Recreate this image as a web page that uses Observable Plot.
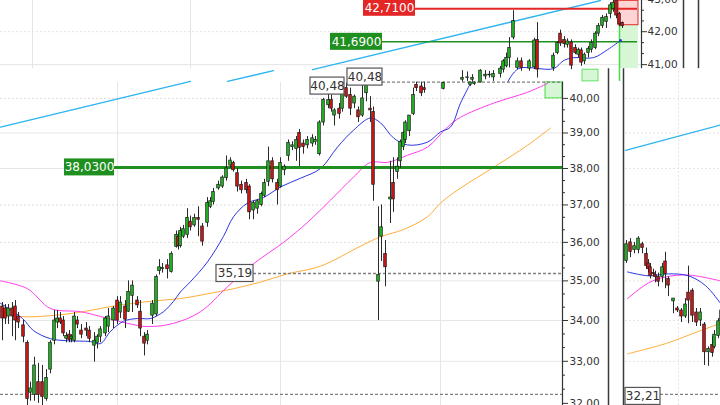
<!DOCTYPE html>
<html><head><meta charset="utf-8">
<script src="https://cdn.jsdelivr.net/npm/d3@7"></script>
<script src="https://cdn.jsdelivr.net/npm/@observablehq/plot@0.6"></script>
<style>html,body{margin:0;padding:0;background:#fff;}#chart{width:720px;height:405px;overflow:hidden;position:relative;}</style>
</head><body><div id="chart"></div>
<script>
// ================= DATA =================
// price levels
const levelValues = [42.71, 41.69, 38.03];
const levelLabels = ["42,7100", "41,6900", "38,0300"];
const markerValues = [40.48, 40.48, 35.19, 32.21];
const markerLabels = ["40,48", "40,48", "35,19", "32,21"];
const axisTicks = [32, 33, 34, 35, 36, 37, 38, 39, 40];
const topAxisTicks = [41, 42, 43];

// candles: [time, open, high, low, close]
const mainCandles = [
[2,34.35,34.45,33.5,34.05],[5,34.3,34.4,33.9,34.05],[8,34.1,34.4,33.9,34.3],[12,34.3,34.45,33.6,34.1],
[15,34.35,34.5,33.5,34.0],[18,34.1,34.2,33.8,33.95],[23,33.88,34.0,33.45,33.6],[27,33.45,33.5,31.95,32.1],
[30,32.25,32.5,32.05,32.35],[34,32.2,33.1,32.05,32.9],[38,32.5,32.95,32.0,32.2],[42,32.5,32.9,31.95,32.15],
[46,32.1,32.8,32.05,32.6],[50,32.8,33.5,32.7,33.45],[54,33.5,34.25,33.4,34.0],[57,33.95,34.25,33.8,34.05],
[60,34.05,34.2,33.9,33.95],[63,34.0,34.1,33.6,33.68],[66,33.55,33.7,33.45,33.62],[69,33.65,33.75,33.45,33.52],
[71,33.55,33.65,33.45,33.6],[74,33.5,34.2,33.45,34.1],[77,34.0,34.1,33.8,33.9],[81,33.75,33.9,33.55,33.65],
[86,33.8,33.95,33.6,33.75],[89,33.75,33.85,33.45,33.55],[94,33.38,33.7,32.98,33.5],[97,33.45,33.65,33.3,33.6],
[100,33.6,33.85,33.45,33.78],[105,33.68,34.1,33.6,34.05],[108,33.85,34.3,33.7,34.1],[113,34.0,34.35,33.8,34.3],
[117,34.5,34.6,33.9,34.0],[120,34.2,34.6,34.05,34.45],[125,34.35,34.5,33.8,34.02],[128,34.22,35.0,34.2,34.72],
[132,34.62,35.0,34.2,34.88],[137,34.5,34.6,34.3,34.38],[140,34.22,34.5,33.6,33.8],[144,33.6,33.7,33.13,33.43],
[147,33.5,33.75,33.4,33.65],[152,34.12,34.5,33.9,34.42],[156,34.15,35.15,34.1,35.1],[159,35.25,35.55,35.15,35.35],
[162,35.3,35.45,35.2,35.33],[167,35.4,35.55,35.05,35.3],[171,35.23,35.75,35.2,35.7],[176,35.88,36.3,35.85,36.2],
[178,36.15,36.25,35.8,35.9],[180,35.9,36.4,35.85,36.3],[183,36.15,36.45,36.1,36.35],[187,36.2,36.9,36.1,36.65],
[190,36.55,36.7,36.3,36.4],[194,36.45,36.75,36.4,36.65],[198,36.65,36.95,36.15,36.6],[202,36.42,36.5,35.9,36.02],
[207,36.52,37.2,36.4,37.05],[210,36.95,37.2,36.9,37.1],[213,37.08,37.45,37.0,37.35],[218,37.45,37.65,37.4,37.55],
[222,37.5,37.8,37.45,37.75],[226,37.73,38.35,37.65,38.0],[230,38.08,38.3,38.0,38.22],[233,38.15,38.2,37.9,37.95],
[237,37.87,38.0,37.35,37.5],[241,37.55,37.65,37.3,37.4],[246,37.6,37.7,37.3,37.4],[249,37.5,37.55,36.6,36.8],
[253,36.85,37.1,36.6,37.05],[257,36.9,37.15,36.75,37.1],[261,37.0,37.35,36.95,37.3],[264,37.25,37.7,37.2,37.6],
[268,37.63,38.6,37.5,38.2],[272,38.2,38.3,37.6,37.7],[277,37.6,37.7,37.0,37.4],[280,37.5,38.3,37.45,38.15],
[284,37.95,38.1,37.8,38.05],[288,38.35,38.8,38.2,38.72],[292,38.6,38.75,38.5,38.65],[296,38.55,38.9,38.2,38.8],
[299,39.0,39.1,38.05,38.58],[303,38.7,38.8,38.4,38.6],[307,38.65,38.9,38.55,38.8],[312,38.7,38.95,38.6,38.85],
[315,38.75,38.9,38.65,38.8],[319,38.4,39.35,38.35,39.3],[323,39.3,40.0,39.2,39.95],[328,39.8,40.3,39.7,39.95],
[331,39.95,40.1,39.6,39.7],[334,39.5,39.7,39.2,39.65],[339,39.7,39.85,39.4,39.55],[342,39.7,40.3,39.6,40.15],
[346,40.3,40.45,40.0,40.05],[350,40.1,40.3,39.5,39.7],[354,39.85,40.1,39.7,40.05],[358,39.65,39.75,39.3,39.45],
[362,39.5,40.4,39.45,40.0],[366,40.15,40.48,39.9,40.38],[370,39.7,40.05,39.3,39.65],[373,39.6,39.75,37.1,37.55],
[378,34.98,36.95,34.0,35.15],[381,36.15,37.0,35.5,36.4],[385,35.7,36.05,34.85,35.35],[390,37.15,38.2,36.5,37.2],
[393,37.6,38.3,36.8,37.15],[397,37.9,38.3,37.7,38.05],[400,38.2,38.8,38.0,38.75],[403,38.6,39.05,38.5,39.0],
[405,38.8,39.35,38.7,39.3],[409,39.05,39.5,38.9,39.5],[413,39.55,40.3,39.5,40.1],[416,40.4,40.48,40.2,40.3],
[421,40.35,40.48,40.05,40.15],[424,40.3,40.48,40.15,40.25],[443,40.28,40.48,40.25,40.45],[470,40.4,40.48,40.35,40.47],
[474,40.42,40.48,40.38,40.47]
];
const topCandles = [
[462,40.55,40.82,40.48,40.6],[467,40.6,40.78,40.5,40.62],[472,40.55,40.7,40.48,40.6],[480,40.47,40.85,40.45,40.82],
[485,40.65,40.82,40.55,40.7],[489,40.7,40.8,40.6,40.68],[493,40.62,40.82,40.5,40.72],[500,40.72,40.95,40.6,40.88],
[503,40.85,41.15,40.75,41.1],[506,40.95,41.35,40.9,41.2],[509,41.2,41.82,40.9,41.5],[513,41.82,42.65,41.75,42.33],
[517,40.9,41.2,40.85,41.1],[521,41.1,41.2,40.8,40.9],[529,40.88,41.15,40.8,41.1],[534,40.92,41.8,40.85,41.73],
[537,41.75,42.28,40.6,40.85],[553,40.9,41.35,40.8,41.27],[557,41.35,41.7,41.3,41.65],[560,41.94,42.05,41.55,41.64],
[564,41.75,41.85,41.5,41.62],[567,41.6,41.78,41.5,41.7],[571,41.67,41.75,40.85,40.97],[575,41.5,41.6,41.3,41.35],
[578,41.3,41.5,41.2,41.45],[581,41.43,41.5,40.95,41.06],[584,41.1,41.35,41.0,41.3],[588,41.35,41.55,41.2,41.48],
[591,41.45,41.75,41.35,41.65],[595,41.5,42.0,41.45,41.94],[598,41.94,42.25,41.85,42.18],[602,42.18,42.5,42.1,42.43],
[606,42.3,42.55,42.1,42.45],[610,42.55,42.9,42.4,42.82],[613,42.7,42.97,42.6,42.9],[616,42.97,42.97,42.4,42.5],
[619,42.55,42.6,42.15,42.23],[622,42.27,42.3,42.1,42.17]
];
const rightCandles = [
[626,35.51,36.05,35.45,35.95],[630,36.0,36.1,35.6,35.75],[634,35.8,36.0,35.7,35.9],[638,35.8,36.15,35.7,36.1],
[642,35.95,36.0,35.7,35.85],[646,35.7,35.85,35.3,35.38],[648,35.45,35.55,35.2,35.3],[650,35.35,35.45,35.05,35.12],
[653,35.2,35.3,35.1,35.17],[655,35.15,35.25,34.95,35.1],[658,35.1,35.2,34.85,34.98],[662,35.1,35.45,34.95,35.35],
[665,35.5,35.74,34.8,35.18],[668,35.05,35.1,34.6,34.88],[673,34.48,34.55,34.17,34.55],[677,34.3,34.35,34.2,34.25],
[681,34.25,34.3,33.95,34.1],[685,34.1,34.55,34.05,34.4],[688,34.7,35.38,33.92,34.5],[692,34.75,34.8,33.95,34.12],
[696,34.2,34.3,33.85,33.95],[700,34.0,34.3,33.85,34.2],[704,33.9,33.95,32.9,33.22],[708,33.22,33.35,32.88,33.3],
[712,33.4,33.6,33.1,33.2],[714,33.35,33.75,33.3,33.65],[718,33.62,34.05,33.55,33.98],[721,33.98,34.3,33.9,34.25]
];

// moving averages: [time, value]
const mainMA20 = [[0,34.43],[22,34.05],[33,33.75],[50,33.55],[67,33.5],[90,33.48],[100,33.43],[110,33.73],[123,33.98],
[137,34.05],[150,34.05],[163,34.22],[173,34.48],[180,34.72],[190,34.98],[207,35.49],[223,36.16],[233,36.68],[247,37.05],
[263,37.2],[280,37.49],[300,37.73],[320,38.0],[337,38.6],[353,39.08],[370,39.43],[380,39.29],[393,38.86],[407,38.66],
[427,38.74],[440,39.03],[450,39.17],[460,39.86],[470,40.44]];
const mainMA50 = [[0,35.0],[27,34.8],[50,34.3],[80,34.22],[100,34.1],[127,33.93],[147,33.85],[173,33.93],[200,34.22],
[227,34.85],[253,35.44],[283,36.0],[307,36.53],[330,37.13],[353,37.76],[370,38.17],[387,38.17],[407,38.37],[427,38.6],
[447,39.17],[460,39.45],[493,39.86],[527,40.18],[547,40.44]];
const mainMA200 = [[0,34.22],[20,34.1],[50,34.12],[83,34.22],[110,34.35],[133,34.43],[157,34.5],[180,34.55],[207,34.67],
[233,34.8],[260,34.97],[287,35.18],[320,35.38],[360,35.9],[380,36.15],[403,36.34],[427,36.68],[440,37.05],[460,37.46],
[493,38.03],[527,38.65],[550,39.14]];
const topMA20 = [[507,40.47],[518,40.88],[553,40.88],[563,41.12],[573,41.21],[593,41.21],[607,41.45],[620,41.73]];
const rightMA20 = [[627,35.23],[648,35.13],[668,35.18],[688,35.13],[705,34.88],[720,34.43]];
const rightMA50 = [[627,34.55],[648,34.95],[665,35.1],[688,35.15],[720,35.0]];
const rightMA200 = [[627,33.18],[665,33.43],[698,33.73],[720,33.93]];

// trend lines (cyan): segments of [time, value]
const trendSegments = [
  [[0,39.17],[190,40.5]],
  [[227,40.5],[273,40.82]],
  [[312,40.85],[600,42.97]],
  [[625,38.51],[720,39.23]]
];

// ================= LAYOUT / STYLE =================
const W = 720, H = 405;
const yDomain = [31.95, 42.97];
const K = H / Math.log(yDomain[1] / yDomain[0]); // px per ln unit
const shiftPx = (v, px) => v * Math.exp(-px / K); // move px downward
const FONT = "DejaVu Sans";
const mainTop = 40.48, topBottom = 40.88;
const L = {
  mainRight: 562, seps: [608, 623], topAxis: 641, topSeps: [683, 698], right0: 625,
  mainVGrid: [117, 280, 440], topVGrid: [32, 190], rightVGrid: [678]
};
const GREEN = "#1f8f1f", RED = "#e42626";

const levelStyle = [
  {x: 363, w: 52, dy: -1, line: [415, 637], fill: RED, stroke: RED, width: 2},
  {x: 330, w: 52, dy: 0, line: [382, 637], fill: GREEN, stroke: GREEN, width: 1.5},
  {x: 64, w: 50, dy: 0, line: [114, 562], fill: GREEN, stroke: GREEN, width: 3}
];
const levels = levelValues.map((v, i) => ({v, text: levelLabels[i], ...levelStyle[i]}));
const markerStyle = [
  {x: 310, w: 34, dy: 4, lines: []},
  {x: 347, w: 35, dy: -5, lines: [[382, 562]]},
  {x: 216, w: 37, dy: 0, lines: [[253, 562]]},
  {x: 625, w: 35, dy: 2, lines: [[0, 562], [660, 720]]}
];
const markers = markerValues.map((v, i) => ({v, text: markerLabels[i], ...markerStyle[i]}));
const markerLines = markers.flatMap(m => m.lines.map(([a, b]) => ({v: m.v, x1: a, x2: b})));

const toCandle = r => ({t: r[0], o: r[1], h: r[2], l: r[3], c: r[4]});
const fmt = d => d.toFixed(2).replace(".", ",");

function candles(rows, hw) {
  const data = rows.map(toCandle);
  return [
    Plot.ruleX(data, {x: "t", y1: "l", y2: "h", stroke: "#2a2a2a", strokeWidth: 1}),
    Plot.rect(data, {x1: d => d.t - hw, x2: d => d.t + hw, y1: d => Math.min(d.o, d.c), y2: d => Math.max(d.o, d.c) === Math.min(d.o, d.c) ? d.o + 0.01 : Math.max(d.o, d.c),
      fill: d => d.c >= d.o ? "#1fb51f" : "#d01414", stroke: "#1a1a1a", strokeWidth: 0.7})
  ];
}
const ma = (rows, color, w = 1) => Plot.line(rows, {x: d => d[0], y: d => d[1], stroke: color, strokeWidth: w, curve: "catmull-rom"});
const minorOf = (ticks, lo, hi) => ticks.flatMap(t => [t + 1/3, t + 2/3, t - 1/3, t - 2/3]).filter((v, i, a) => v > lo && v < hi && a.indexOf(v) === i);

const boxY = (d, s) => shiftPx(d.v, d.dy + s * 8.5);

const chart = Plot.plot({
  width: W, height: H, margin: 0,
  x: {domain: [0, W], axis: null},
  y: {type: "log", domain: yDomain, axis: null},
  color: {type: "identity"},
  style: {background: "#fff", fontFamily: FONT},
  marks: [
    // grids
    Plot.ruleY([33, 34, 35, 38, 39], {x1: 0, x2: L.mainRight, stroke: "#e6e6e6"}),
    Plot.ruleY([36, 37, 40], {x1: 0, x2: L.mainRight, stroke: "#e6d8d8", strokeDasharray: "2,2"}),
    Plot.ruleX(L.mainVGrid, {y1: yDomain[0], y2: mainTop, stroke: "#e6e6e6", strokeDasharray: d => d === 117 ? "2,2" : null}),
    Plot.ruleY([42], {x1: 0, x2: L.topAxis, stroke: "#e4e4e4", strokeDasharray: "2,2"}),
    Plot.ruleY([41], {x1: 0, x2: L.topAxis, stroke: "#e4e4e4"}),
    Plot.ruleX(L.topVGrid, {y1: topBottom, y2: yDomain[1], stroke: "#e4e4e4"}),
    Plot.ruleY([33, 34, 35, 36, 37, 38, 39, 40], {x1: L.right0, x2: W, stroke: "#ebe2e2", strokeDasharray: "2,2"}),
    Plot.ruleX(L.rightVGrid, {y1: yDomain[0], y2: topBottom, stroke: "#ebe2e2", strokeDasharray: "2,2"}),
    // shaded boxes
    Plot.rect([{x1: 545, x2: 562, y1: 40.0, y2: 40.47}], {x1: "x1", x2: "x2", y1: "y1", y2: "y2", fill: "#d6f6d6", stroke: "#44dd44"}),
    Plot.rect([{x1: 582, x2: 598, y1: 40.5, y2: 40.85}], {x1: "x1", x2: "x2", y1: "y1", y2: "y2", fill: "#d6f6d6", stroke: "#44dd44", strokeWidth: 0.8}),
    Plot.rect([{x1: 619, x2: 638, y1: topBottom, y2: 42.2}], {x1: "x1", x2: "x2", y1: "y1", y2: "y2", fill: "#d6f6d6"}),
    Plot.ruleX([619], {y1: 40.5, y2: 42.2, stroke: "#44dd44", strokeWidth: 1.5}),
    Plot.rect([{x1: 618, x2: 638, y1: 42.2, y2: 42.96}], {x1: "x1", x2: "x2", y1: "y1", y2: "y2", fill: "#ffd4d4", stroke: RED, strokeWidth: 1}),
    // trend lines
    ...trendSegments.map(s => Plot.line(s, {x: d => d[0], y: d => d[1], stroke: "#2ab4f0", strokeWidth: 1.3})),
    // moving averages
    ma(mainMA200, "#ffad3a"), ma(mainMA50, "#ff3cf0"), ma(mainMA20, "#2a35e0"),
    ma(topMA20, "#2a35e0"),
    ma(rightMA200, "#ffad3a"), ma(rightMA50, "#ff3cf0"), ma(rightMA20, "#2a35e0"),
    // horizontal level lines
    Plot.ruleY(levels, {y: "v", x1: d => d.line[0], x2: d => d.line[1], stroke: "stroke", strokeWidth: d => d.width}),
    Plot.ruleY(markerLines, {y: "v", x1: "x1", x2: "x2", stroke: "#808080", strokeWidth: 1.3, strokeDasharray: "3,2"}),
    // candles
    ...candles(mainCandles, 1.3),
    ...candles(topCandles, 1.3),
    ...candles(rightCandles, 1.3),
    Plot.dot([[620, 41.73]], {x: d => d[0], y: d => d[1], r: 1.5, fill: "#2a35e0"}),
    // label boxes
    Plot.rect(levels, {x1: "x", x2: d => d.x + d.w, y1: d => boxY(d, 1), y2: d => boxY(d, -1), fill: "fill"}),
    Plot.text(levels, {x: d => d.x + d.w / 2, y: d => shiftPx(d.v, d.dy), text: "text", fill: "#fff", fontSize: 12, fontFamily: FONT}),
    Plot.rect(markers, {x1: "x", x2: d => d.x + d.w, y1: d => boxY(d, 1), y2: d => boxY(d, -1), fill: "#fff", stroke: "#555", strokeWidth: 1.2}),
    Plot.text(markers, {x: d => d.x + d.w / 2, y: d => shiftPx(d.v, d.dy), text: "text", fill: "#333", fontSize: 12, fontFamily: FONT}),
    // main axis
    Plot.ruleX([L.mainRight], {y1: yDomain[0], y2: mainTop, stroke: "#333", strokeWidth: 1.2}),
    Plot.ruleY(axisTicks, {y: d => d, x1: L.mainRight, x2: L.mainRight + 6, stroke: "#333"}),
    Plot.ruleY(minorOf(axisTicks, yDomain[0], 40.3), {y: d => d, x1: L.mainRight, x2: L.mainRight + 3, stroke: "#333"}),
    Plot.text(axisTicks, {x: L.mainRight + 7, y: d => d, text: fmt, textAnchor: "start", fill: "#333", fontSize: 10.5, fontFamily: FONT}),
    // top axis
    Plot.ruleX([L.topAxis], {y1: topBottom, y2: yDomain[1], stroke: "#333", strokeWidth: 1.2}),
    Plot.ruleY(topAxisTicks, {y: d => d, x1: L.topAxis, x2: L.topAxis + 6, stroke: "#333"}),
    Plot.ruleY(minorOf(topAxisTicks, topBottom, yDomain[1]), {y: d => d, x1: L.topAxis, x2: L.topAxis + 3, stroke: "#333"}),
    Plot.text(topAxisTicks, {x: L.topAxis + 6, y: d => d, text: fmt, textAnchor: "start", fill: "#333", fontSize: 10.5, fontFamily: FONT}),
    // window separators
    Plot.ruleX(L.seps, {y1: yDomain[0], y2: topBottom, stroke: "#3a3a3a", strokeWidth: 1.5}),
    Plot.ruleX(L.topSeps, {y1: topBottom, y2: yDomain[1], stroke: "#3a3a3a", strokeWidth: 1.5})
  ]
});
document.getElementById("chart").appendChild(chart);
</script>
</body></html>
